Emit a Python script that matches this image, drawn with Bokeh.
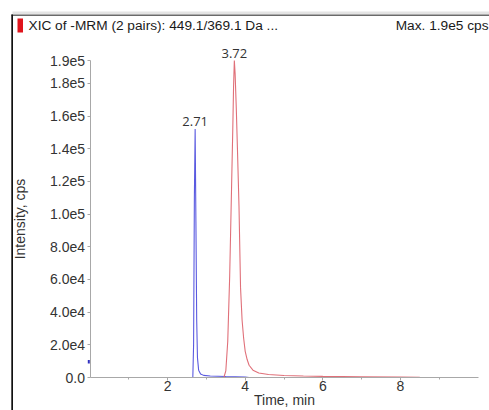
from bokeh.plotting import figure
from bokeh.models import FixedTicker, Label, LabelSet, ColumnDataSource, Range1d, BoxAnnotation
from bokeh.core.properties import value
from bokeh.embed import file_html
from bokeh.resources import INLINE

# ---- data ----
time_blue = [2.60, 2.65, 2.67, 2.69, 2.71, 2.73, 2.75, 2.77, 2.80, 2.85, 2.93, 3.10, 3.50, 4.00, 4.10]
int_blue = [0, 0, 20000, 110000, 152000, 95000, 35000, 12000, 4500, 2200, 1300, 900, 600, 300, 0]

time_red = [2.60, 3.00, 3.45, 3.50, 3.55, 3.60, 3.65, 3.68, 3.70, 3.72, 3.74, 3.77, 3.80, 3.84,
            3.88, 3.92, 3.96, 4.00, 4.05, 4.10, 4.20, 4.35, 4.60, 5.00, 5.50, 6.00, 7.00, 8.00, 8.50]
int_red = [0, 0, 0, 4000, 22000, 62000, 118000, 152000, 178000, 194000, 186000, 165000, 140000, 105000,
           55000, 35000, 24000, 16000, 11000, 7500, 4500, 2800, 1800, 1200, 900, 700, 500, 300, 100]

peak_times = [2.71, 3.72]
peak_heights = [152000, 194000]
peak_labels = ["2.71", "3.72"]

y_ticks = [0, 20000, 40000, 60000, 80000, 100000, 120000, 140000, 160000, 180000, 194000]
y_tick_labels = ["0.0", "2.0e4", "4.0e4", "6.0e4", "8.0e4", "1.0e5", "1.2e5", "1.4e5", "1.6e5", "1.8e5", "1.9e5"]
x_ticks = [2, 4, 6, 8]
x_minor_ticks = [1, 3, 5, 7, 9]

title_text = "XIC of -MRM (2 pairs): 449.1/369.1 Da ..."
max_text = "Max. 1.9e5 cps"
x_label = "Time, min"
y_label = "Intensity, cps"

# ---- layout (pixels) ----
W, H = 489, 410
X_MAX, Y_MAX = 10, 194000          # axis extents
PX_X0, PX_X1 = 89.5, 477.5         # x = 0 and x = X_MAX on screen
PX_Y0, PX_Y1 = 377.0, 60.0         # y = 0 and y = Y_MAX on screen

sx = (PX_X1 - PX_X0) / X_MAX
sy = (PX_Y0 - PX_Y1) / Y_MAX
def px2x(px):
    return (px - PX_X0) / sx
def px2y(py):
    return (PX_Y0 - py) / sy

FONT = "Liberation Sans"
AXIS_COL = "#a8a8a8"
TEXT_COL = "#333333"

p = figure(width=W, height=H, output_backend="svg", toolbar_location=None,
           x_range=Range1d(px2x(0), px2x(W)), y_range=Range1d(px2y(H), px2y(0)),
           min_border_left=0, min_border_right=0, min_border_top=0, min_border_bottom=0)
p.outline_line_color = None
p.grid.visible = False
p.background_fill_color = "white"
p.border_fill_color = "white"

# axes
for ax in (p.xaxis[0], p.yaxis[0]):
    ax.fixed_location = 0
    ax.axis_line_color = AXIS_COL
    ax.major_tick_line_color = AXIS_COL
    ax.minor_tick_line_color = AXIS_COL
    ax.major_tick_out = 3
    ax.major_tick_in = 0
    ax.major_label_text_font = FONT
    ax.major_label_text_font_size = "14px"
    ax.major_label_text_color = TEXT_COL
    ax.axis_label_text_font = FONT
    ax.axis_label_text_font_size = "14px"
    ax.axis_label_text_font_style = "normal"
    ax.axis_label_text_color = TEXT_COL

p.xaxis[0].bounds = (0, X_MAX)
p.xaxis[0].ticker = FixedTicker(ticks=x_ticks, minor_ticks=x_minor_ticks)
p.xaxis[0].minor_tick_out = 2
p.xaxis[0].minor_tick_in = 0
p.xaxis[0].major_label_standoff = 0
p.xaxis[0].axis_label = x_label
p.xaxis[0].axis_label_standoff = -2

p.yaxis[0].bounds = (0, Y_MAX)
p.yaxis[0].ticker = FixedTicker(ticks=y_ticks, minor_ticks=[])
p.yaxis[0].major_label_overrides = {t: l for t, l in zip(y_ticks, y_tick_labels)}
p.yaxis[0].major_label_standoff = 2
p.yaxis[0].axis_label = y_label
p.yaxis[0].axis_label_standoff = 19

# window frame decoration
p.add_layout(BoxAnnotation(left=px2x(12), right=px2x(W), top=px2y(11), bottom=px2y(14),
                           fill_color="#e4e4e4", fill_alpha=1, line_color=None))
p.add_layout(BoxAnnotation(left=px2x(11), right=px2x(W), top=px2y(14), bottom=px2y(15.5),
                           fill_color="#6a6a6a", fill_alpha=1, line_color=None))
p.add_layout(BoxAnnotation(left=px2x(10.8), right=px2x(12.5), top=px2y(14), bottom=px2y(H),
                           fill_color="#111111", fill_alpha=1, line_color=None))
# red header marker
p.add_layout(BoxAnnotation(left=px2x(17), right=px2x(22.5), top=px2y(18), bottom=px2y(32),
                           fill_color="#e0141c", fill_alpha=1, line_color=None))
# small blue marker on the y axis
p.add_layout(BoxAnnotation(left=px2x(87.3), right=px2x(89.3), top=px2y(359.5), bottom=px2y(363),
                           fill_color="#3030c0", fill_alpha=1, line_color=None))

# traces
p.line(time_blue, int_blue, line_color="#5a5ae0", line_width=1.1)
p.line(time_red, int_red, line_color="#e07079", line_width=1.1)

# peak labels
src = ColumnDataSource(dict(x=peak_times, y=peak_heights, t=peak_labels))
p.add_layout(LabelSet(x="x", y="y", text="t", source=src, text_align="center",
                      text_baseline="bottom", y_offset=3, text_font=value("Open Sans"),
                      text_font_size=value("13px"), text_color=TEXT_COL))

# header texts
p.add_layout(Label(x=px2x(28), y=px2y(25), text=title_text, text_align="left", text_baseline="middle",
                   text_font=FONT, text_font_size="13.7px", text_color="#1a1a1a"))
p.add_layout(Label(x=px2x(488), y=px2y(25), text=max_text, text_align="right", text_baseline="middle",
                   text_font=FONT, text_font_size="13.7px", text_color="#1a1a1a"))

open("out.html", "w").write(file_html(p, INLINE))
